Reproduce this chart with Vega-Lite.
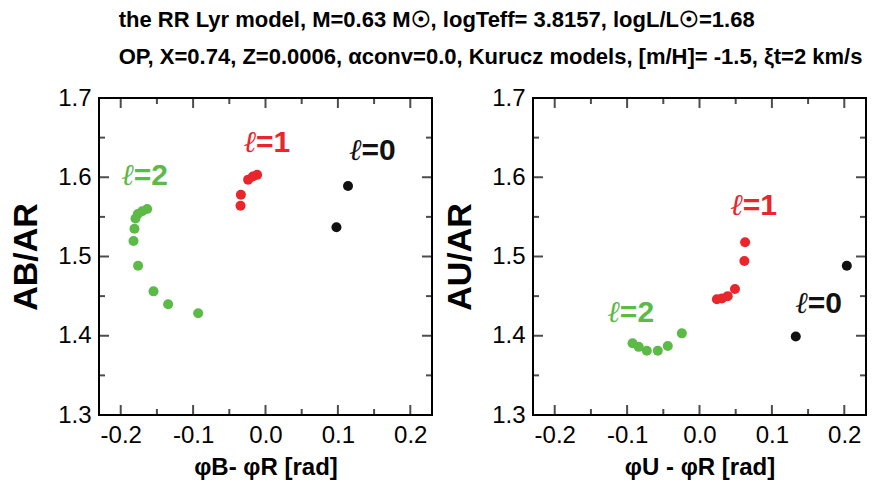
{
  "$schema": "https://vega.github.io/schema/vega-lite/v6.json",
  "background": "white",
  "padding": {"left": 8, "top": 9, "right": 5, "bottom": 5},
  "title": {
    "text": ["the RR Lyr model, M=0.63 M☉, logTeff= 3.8157, logL/L☉=1.68", "OP, X=0.74, Z=0.0006, αconv=0.0, Kurucz models, [m/H]= -1.5, ξt=2 km/s"],
    "anchor": "start",
    "font": "Liberation Sans",
    "fontSize": 22,
    "fontWeight": "bold",
    "lineHeight": 37,
    "offset": 16,
    "dx": 110,
    "color": "black"
  },
  "datasets": {
    "xticks": [
      {"phase": -0.2, "kind": "major"}, {"phase": -0.15, "kind": "minor"}, {"phase": -0.1, "kind": "major"},
      {"phase": -0.05, "kind": "minor"}, {"phase": 0, "kind": "major"}, {"phase": 0.05, "kind": "minor"},
      {"phase": 0.1, "kind": "major"}, {"phase": 0.15, "kind": "minor"}, {"phase": 0.2, "kind": "major"}
    ],
    "yticks": [
      {"ratio": 1.3, "kind": "major"}, {"ratio": 1.35, "kind": "minor"}, {"ratio": 1.4, "kind": "major"},
      {"ratio": 1.45, "kind": "minor"}, {"ratio": 1.5, "kind": "major"}, {"ratio": 1.55, "kind": "minor"},
      {"ratio": 1.6, "kind": "major"}, {"ratio": 1.65, "kind": "minor"}, {"ratio": 1.7, "kind": "major"}
    ],
    "left_points": [
      {"phase": 0.098, "ratio": 1.537, "mode": "0"},
      {"phase": 0.114, "ratio": 1.589, "mode": "0"},
      {"phase": -0.0345, "ratio": 1.564, "mode": "1"},
      {"phase": -0.034, "ratio": 1.578, "mode": "1"},
      {"phase": -0.024, "ratio": 1.597, "mode": "1"},
      {"phase": -0.0175, "ratio": 1.601, "mode": "1"},
      {"phase": -0.0116, "ratio": 1.603, "mode": "1"},
      {"phase": -0.1635, "ratio": 1.56, "mode": "2"},
      {"phase": -0.1704, "ratio": 1.557, "mode": "2"},
      {"phase": -0.1764, "ratio": 1.5536, "mode": "2"},
      {"phase": -0.1796, "ratio": 1.548, "mode": "2"},
      {"phase": -0.181, "ratio": 1.535, "mode": "2"},
      {"phase": -0.1823, "ratio": 1.5196, "mode": "2"},
      {"phase": -0.176, "ratio": 1.4884, "mode": "2"},
      {"phase": -0.1547, "ratio": 1.456, "mode": "2"},
      {"phase": -0.1345, "ratio": 1.4397, "mode": "2"},
      {"phase": -0.093, "ratio": 1.4283, "mode": "2"}
    ],
    "right_points": [
      {"phase": 0.133, "ratio": 1.399, "mode": "0"},
      {"phase": 0.2035, "ratio": 1.4884, "mode": "0"},
      {"phase": 0.063, "ratio": 1.518, "mode": "1"},
      {"phase": 0.062, "ratio": 1.4943, "mode": "1"},
      {"phase": 0.049, "ratio": 1.459, "mode": "1"},
      {"phase": 0.039, "ratio": 1.45, "mode": "1"},
      {"phase": 0.031, "ratio": 1.447, "mode": "1"},
      {"phase": 0.024, "ratio": 1.446, "mode": "1"},
      {"phase": -0.0244, "ratio": 1.403, "mode": "2"},
      {"phase": -0.0438, "ratio": 1.387, "mode": "2"},
      {"phase": -0.0576, "ratio": 1.381, "mode": "2"},
      {"phase": -0.0728, "ratio": 1.381, "mode": "2"},
      {"phase": -0.084, "ratio": 1.386, "mode": "2"},
      {"phase": -0.0925, "ratio": 1.3905, "mode": "2"}
    ],
    "left_labels": [
      {"phase": 0.1326, "ratio": 1.622, "mode": "0", "eq": "=0"},
      {"phase": -0.013, "ratio": 1.632, "mode": "1", "eq": "=1"},
      {"phase": -0.182, "ratio": 1.59, "mode": "2", "eq": "=2"}
    ],
    "right_labels": [
      {"phase": 0.1496, "ratio": 1.4287, "mode": "0", "eq": "=0"},
      {"phase": 0.0598, "ratio": 1.5524, "mode": "1", "eq": "=1"},
      {"phase": -0.11, "ratio": 1.4173, "mode": "2", "eq": "=2"}
    ]
  },
  "spacing": 9,
  "hconcat": [
    {
      "width": 333,
      "height": 317,
      "layer": [
        {
          "data": {"name": "left_points"},
          "mark": {"type": "circle", "size": 100, "opacity": 1},
          "encoding": {
            "x": {"field": "phase", "type": "quantitative", "scale": {"domain": [-0.23, 0.23], "nice": false, "zero": false},
              "axis": {"orient": "bottom", "title": "φB- φR [rad]", "values": [-0.2, -0.1, 0, 0.1, 0.2],
                "labelExpr": "replace(format(datum.value,'.1f'),'−','-')"}},
            "y": {"field": "ratio", "type": "quantitative", "scale": {"domain": [1.3, 1.7], "nice": false, "zero": false},
              "axis": {"orient": "left", "title": "AB/AR", "values": [1.3, 1.4, 1.5, 1.6, 1.7],
                "labelExpr": "format(datum.value,'.1f')"}},
            "color": {"field": "mode", "type": "nominal", "scale": {"domain": ["0", "1", "2"], "range": ["#111111", "#ea252c", "#5cba47"]}, "legend": null}
          }
        },
        {"data": {"name": "xticks"}, "transform": [{"filter": "datum.kind == 'major'"}],
          "mark": {"type": "tick", "orient": "vertical", "thickness": 2, "size": 10, "yOffset": -5, "color": "black"},
          "encoding": {"x": {"field": "phase", "type": "quantitative"}, "y": {"datum": 1.3, "type": "quantitative"}}},
        {"data": {"name": "xticks"}, "transform": [{"filter": "datum.kind == 'minor'"}],
          "mark": {"type": "tick", "orient": "vertical", "thickness": 2, "size": 6, "yOffset": -3, "color": "black"},
          "encoding": {"x": {"field": "phase", "type": "quantitative"}, "y": {"datum": 1.3, "type": "quantitative"}}},
        {"data": {"name": "xticks"}, "transform": [{"filter": "datum.kind == 'major'"}],
          "mark": {"type": "tick", "orient": "vertical", "thickness": 2, "size": 10, "yOffset": 5, "color": "black"},
          "encoding": {"x": {"field": "phase", "type": "quantitative"}, "y": {"datum": 1.7, "type": "quantitative"}}},
        {"data": {"name": "xticks"}, "transform": [{"filter": "datum.kind == 'minor'"}],
          "mark": {"type": "tick", "orient": "vertical", "thickness": 2, "size": 6, "yOffset": 3, "color": "black"},
          "encoding": {"x": {"field": "phase", "type": "quantitative"}, "y": {"datum": 1.7, "type": "quantitative"}}},
        {"data": {"name": "yticks"}, "transform": [{"filter": "datum.kind == 'major'"}],
          "mark": {"type": "tick", "orient": "horizontal", "thickness": 2, "size": 10, "xOffset": 5, "color": "black"},
          "encoding": {"y": {"field": "ratio", "type": "quantitative"}, "x": {"datum": -0.23, "type": "quantitative"}}},
        {"data": {"name": "yticks"}, "transform": [{"filter": "datum.kind == 'minor'"}],
          "mark": {"type": "tick", "orient": "horizontal", "thickness": 2, "size": 6, "xOffset": 3, "color": "black"},
          "encoding": {"y": {"field": "ratio", "type": "quantitative"}, "x": {"datum": -0.23, "type": "quantitative"}}},
        {"data": {"name": "yticks"}, "transform": [{"filter": "datum.kind == 'major'"}],
          "mark": {"type": "tick", "orient": "horizontal", "thickness": 2, "size": 10, "xOffset": -5, "color": "black"},
          "encoding": {"y": {"field": "ratio", "type": "quantitative"}, "x": {"datum": 0.23, "type": "quantitative"}}},
        {"data": {"name": "yticks"}, "transform": [{"filter": "datum.kind == 'minor'"}],
          "mark": {"type": "tick", "orient": "horizontal", "thickness": 2, "size": 6, "xOffset": -3, "color": "black"},
          "encoding": {"y": {"field": "ratio", "type": "quantitative"}, "x": {"datum": 0.23, "type": "quantitative"}}},
        {
          "data": {"name": "left_labels"},
          "mark": {"type": "text", "text": "ℓ", "align": "right", "baseline": "alphabetic", "font": "Liberation Serif", "fontStyle": "italic", "fontSize": 30},
          "encoding": {
            "x": {"field": "phase", "type": "quantitative"},
            "y": {"field": "ratio", "type": "quantitative"},
            "color": {"field": "mode", "type": "nominal", "legend": null}
          }
        },
        {
          "data": {"name": "left_labels"},
          "mark": {"type": "text", "align": "left", "baseline": "alphabetic", "font": "Liberation Sans", "fontWeight": "bold", "fontSize": 30},
          "encoding": {
            "x": {"field": "phase", "type": "quantitative"},
            "y": {"field": "ratio", "type": "quantitative"},
            "text": {"field": "eq"},
            "color": {"field": "mode", "type": "nominal", "legend": null}
          }
        }
      ]
    },
    {
      "width": 333,
      "height": 317,
      "layer": [
        {
          "data": {"name": "right_points"},
          "mark": {"type": "circle", "size": 100, "opacity": 1},
          "encoding": {
            "x": {"field": "phase", "type": "quantitative", "scale": {"domain": [-0.23, 0.23], "nice": false, "zero": false},
              "axis": {"orient": "bottom", "title": "φU - φR [rad]", "values": [-0.2, -0.1, 0, 0.1, 0.2],
                "labelExpr": "replace(format(datum.value,'.1f'),'−','-')"}},
            "y": {"field": "ratio", "type": "quantitative", "scale": {"domain": [1.3, 1.7], "nice": false, "zero": false},
              "axis": {"orient": "left", "title": "AU/AR", "values": [1.3, 1.4, 1.5, 1.6, 1.7],
                "labelExpr": "format(datum.value,'.1f')"}},
            "color": {"field": "mode", "type": "nominal", "scale": {"domain": ["0", "1", "2"], "range": ["#111111", "#ea252c", "#5cba47"]}, "legend": null}
          }
        },
        {"data": {"name": "xticks"}, "transform": [{"filter": "datum.kind == 'major'"}],
          "mark": {"type": "tick", "orient": "vertical", "thickness": 2, "size": 10, "yOffset": -5, "color": "black"},
          "encoding": {"x": {"field": "phase", "type": "quantitative"}, "y": {"datum": 1.3, "type": "quantitative"}}},
        {"data": {"name": "xticks"}, "transform": [{"filter": "datum.kind == 'minor'"}],
          "mark": {"type": "tick", "orient": "vertical", "thickness": 2, "size": 6, "yOffset": -3, "color": "black"},
          "encoding": {"x": {"field": "phase", "type": "quantitative"}, "y": {"datum": 1.3, "type": "quantitative"}}},
        {"data": {"name": "xticks"}, "transform": [{"filter": "datum.kind == 'major'"}],
          "mark": {"type": "tick", "orient": "vertical", "thickness": 2, "size": 10, "yOffset": 5, "color": "black"},
          "encoding": {"x": {"field": "phase", "type": "quantitative"}, "y": {"datum": 1.7, "type": "quantitative"}}},
        {"data": {"name": "xticks"}, "transform": [{"filter": "datum.kind == 'minor'"}],
          "mark": {"type": "tick", "orient": "vertical", "thickness": 2, "size": 6, "yOffset": 3, "color": "black"},
          "encoding": {"x": {"field": "phase", "type": "quantitative"}, "y": {"datum": 1.7, "type": "quantitative"}}},
        {"data": {"name": "yticks"}, "transform": [{"filter": "datum.kind == 'major'"}],
          "mark": {"type": "tick", "orient": "horizontal", "thickness": 2, "size": 10, "xOffset": 5, "color": "black"},
          "encoding": {"y": {"field": "ratio", "type": "quantitative"}, "x": {"datum": -0.23, "type": "quantitative"}}},
        {"data": {"name": "yticks"}, "transform": [{"filter": "datum.kind == 'minor'"}],
          "mark": {"type": "tick", "orient": "horizontal", "thickness": 2, "size": 6, "xOffset": 3, "color": "black"},
          "encoding": {"y": {"field": "ratio", "type": "quantitative"}, "x": {"datum": -0.23, "type": "quantitative"}}},
        {"data": {"name": "yticks"}, "transform": [{"filter": "datum.kind == 'major'"}],
          "mark": {"type": "tick", "orient": "horizontal", "thickness": 2, "size": 10, "xOffset": -5, "color": "black"},
          "encoding": {"y": {"field": "ratio", "type": "quantitative"}, "x": {"datum": 0.23, "type": "quantitative"}}},
        {"data": {"name": "yticks"}, "transform": [{"filter": "datum.kind == 'minor'"}],
          "mark": {"type": "tick", "orient": "horizontal", "thickness": 2, "size": 6, "xOffset": -3, "color": "black"},
          "encoding": {"y": {"field": "ratio", "type": "quantitative"}, "x": {"datum": 0.23, "type": "quantitative"}}},
        {
          "data": {"name": "right_labels"},
          "mark": {"type": "text", "text": "ℓ", "align": "right", "baseline": "alphabetic", "font": "Liberation Serif", "fontStyle": "italic", "fontSize": 30},
          "encoding": {
            "x": {"field": "phase", "type": "quantitative"},
            "y": {"field": "ratio", "type": "quantitative"},
            "color": {"field": "mode", "type": "nominal", "legend": null}
          }
        },
        {
          "data": {"name": "right_labels"},
          "mark": {"type": "text", "align": "left", "baseline": "alphabetic", "font": "Liberation Sans", "fontWeight": "bold", "fontSize": 30},
          "encoding": {
            "x": {"field": "phase", "type": "quantitative"},
            "y": {"field": "ratio", "type": "quantitative"},
            "text": {"field": "eq"},
            "color": {"field": "mode", "type": "nominal", "legend": null}
          }
        }
      ]
    }
  ],
  "config": {
    "view": {"stroke": "black", "strokeWidth": 2},
    "axis": {
      "domain": false,
      "grid": false,
      "ticks": false,
      "tickSize": 0,
      "labelPadding": 8,
      "labelFont": "Liberation Sans",
      "labelFontSize": 24,
      "labelColor": "black",
      "titleFont": "Liberation Sans",
      "titleColor": "black",
      "titleFontWeight": "bold"
    },
    "axisX": {"titleFontSize": 24, "titlePadding": 8},
    "axisY": {"titleFontSize": 34, "titlePadding": 14}
  }
}
